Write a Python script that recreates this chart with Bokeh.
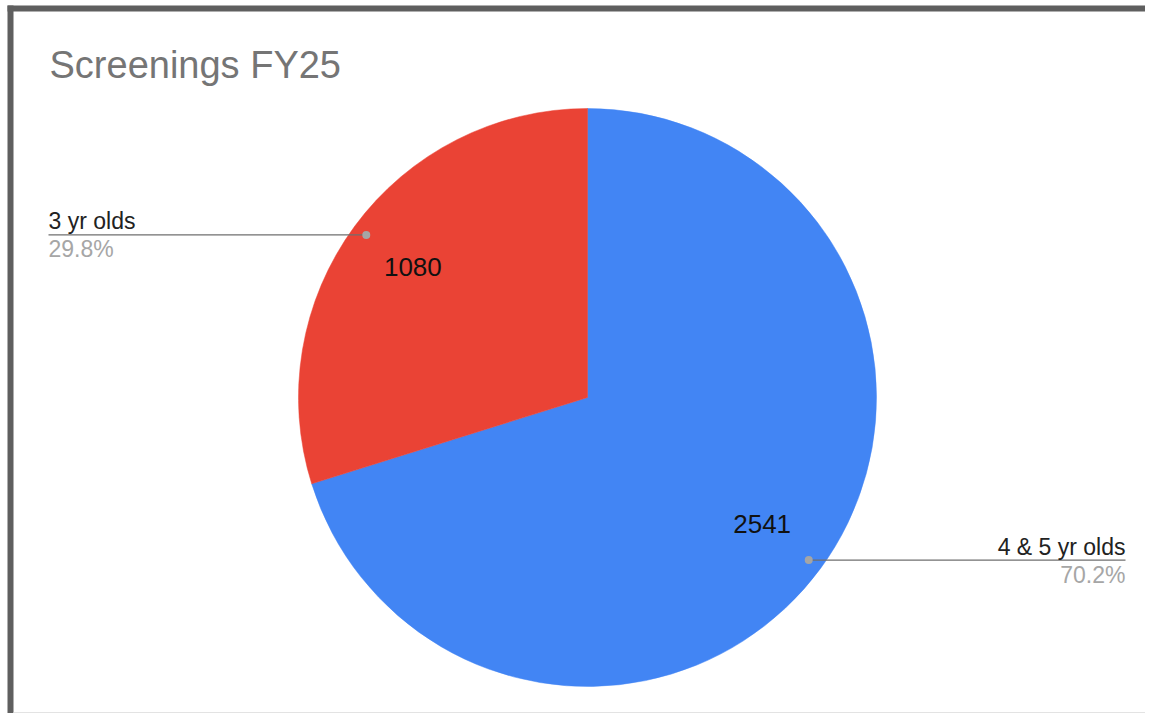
import math
from bokeh.plotting import figure
from bokeh.models import Range1d
from bokeh.core.properties import value
from bokeh.embed import file_html
from bokeh.resources import INLINE

# ---- data ----
title_text = "Screenings FY25"
categories = ["4 & 5 yr olds", "3 yr olds"]
counts = [2541, 1080]
colors = ["#4285F4", "#EA4335"]

# ---- layout ----
W, H = 1145, 713
FONT = value("Liberation Sans")
BASE_SHIFT = 0.28  # compensation for alphabetic baseline rendering


def Y(py):
    return H - py


def text_at(x, base_py, txt, size, color, align):
    p.text(x=[x], y=[Y(base_py) + BASE_SHIFT * size], text=[txt], text_font=FONT,
           text_font_size=f"{size}px", text_color=color, text_align=align,
           text_baseline="alphabetic")


p = figure(width=W, height=H, x_range=Range1d(0, W), y_range=Range1d(0, H),
           output_backend="svg", toolbar_location=None, min_border=0,
           x_axis_type=None, y_axis_type=None)
p.grid.visible = False
p.outline_line_color = None
p.background_fill_color = "white"
p.border_fill_color = "white"

# frame lines
p.quad(left=[7], right=[13], bottom=[0], top=[Y(5)], fill_color="#5f5f5f", line_color=None)
p.quad(left=[7], right=[W], bottom=[Y(11)], top=[Y(5)], fill_color="#5f5f5f", line_color=None)
p.segment(x0=[13], y0=[Y(712)], x1=[W], y1=[Y(712)], line_color="#e3e3e3", line_width=1)

# title
text_at(49, 75.5, title_text, 38, "#757575", "left")

# pie
cx, cy, r = 587, Y(397), 289
total = sum(counts)
cum = 0.0
for cat, v, col in zip(categories, counts, colors):
    frac = v / total
    t0 = cum * 2 * math.pi
    t1 = (cum + frac) * 2 * math.pi
    cum += frac
    start = math.pi / 2 - t1
    end = math.pi / 2 - t0
    p.wedge(x=[cx], y=[cy], radius=r, start_angle=[start], end_angle=[end],
            fill_color=col, line_color=col, line_width=0.5)
    mid = (start + end) / 2
    # value label inside
    vx = cx + 0.75 * r * math.cos(mid)
    vy = cy + 0.75 * r * math.sin(mid)
    p.text(x=[vx], y=[vy + 2], text=[str(v)], text_font=FONT, text_font_size="26px",
           text_color="#111111", text_align="center", text_baseline="middle")
    # leader dot
    dx = cx + 0.95 * r * math.cos(mid)
    dy = cy + 0.95 * r * math.sin(mid)
    pct = f"{frac * 100:.1f}%"
    if math.cos(mid) < 0:
        lx, align = 48, "left"
    else:
        lx, align = 1125, "right"
    p.segment(x0=[lx], y0=[dy], x1=[dx], y1=[dy], line_color="#6f6f6f", line_width=1.3)
    p.scatter(x=[dx], y=[dy], size=8, fill_color="#a5a5a5", line_color=None)
    line_py = H - dy
    text_at(lx, line_py - 7, cat, 23, "#222222", align)
    text_at(lx, line_py + 21, pct, 23, "#a6a6a6", align)

open("out.html", "w").write(file_html(p, INLINE))
